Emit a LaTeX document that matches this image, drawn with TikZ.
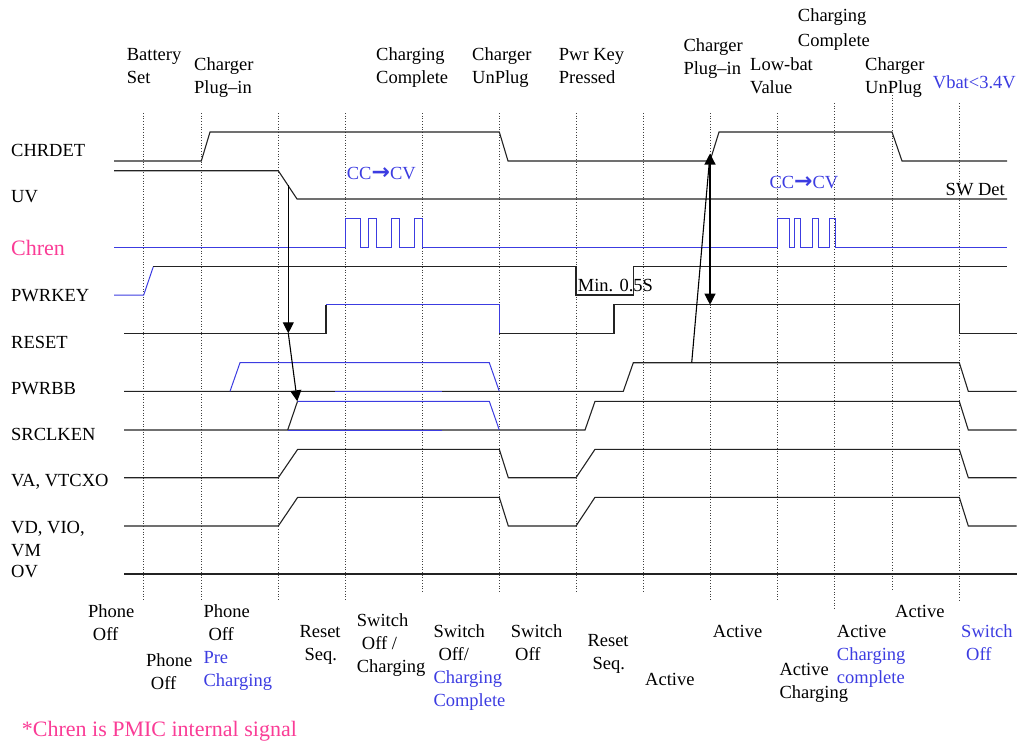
\documentclass[tikz,border=0pt]{standalone}
\usepackage{fontspec}
\setmainfont{Liberation Serif}
\newfontfamily\arrowfont{DejaVu Sans}
\usetikzlibrary{arrows.meta}
\definecolor{sigblue}{RGB}{60,60,225}
\definecolor{pinktxt}{RGB}{250,60,150}
\definecolor{sigline}{RGB}{35,35,35}
\newcommand{\ccarrow}{{\arrowfont\bfseries\fontsize{22}{23}\selectfont →}}
\begin{document}
\begin{tikzpicture}[x=1pt,y=-1pt,
  sig/.style={draw=sigline,line width=1.1pt,line join=miter},
  bsig/.style={draw=sigblue,line width=1.0pt,line join=miter},
  vgrid/.style={draw=black!75,line width=0.7pt,dotted},
  lbl/.style={font=\fontsize{18.5}{23}\selectfont,inner sep=0pt,anchor=base west},
  mlbl/.style={font=\fontsize{18.5}{23}\selectfont,inner sep=0pt,anchor=north west,align=left},
  blu/.style={text=sigblue},
  tipa/.style={draw=black,line width=1.1pt,-{Triangle[length=11pt,width=11pt]}},
  tipb/.style={draw=black,line width=1.1pt,{Triangle[length=11pt,width=11pt]}-{Triangle[length=11pt,width=11pt]}},
  plainl/.style={draw=black,line width=1.1pt},
]
\useasboundingbox (0,0) rectangle (1024,745);

% vertical dotted guides
\foreach \x/\a/\b in {143.7/113/600,201.3/113/600,278.3/113/600,345.3/113/600,422.7/113/591,499.3/113/591,576/113/591,643.3/113/591,710/113/600,777/113/600,834.3/103/610,892/95/591,959.3/103/600}
  \draw[vgrid] (\x,\a) -- (\x,\b);

% CHRDET
\draw[sig] (114,161) -- (201.3,161) -- (210,132) -- (499.3,132) -- (508,161) -- (710,161) -- (719,132) -- (892,132) -- (902,161) -- (1007,161);
% UV
\draw[sig] (114,170.7) -- (278.3,170.7) -- (297,199) -- (1007,199);
% Chren
\draw[bsig] (114,247) -- (345.3,247) -- (345.3,218.5) -- (360.3,218.5) -- (360.3,247) -- (368,247) -- (368,218.5) -- (376,218.5) -- (376,247) -- (391.3,247) -- (391.3,218.5) -- (399.3,218.5) -- (399.3,247) -- (414.7,247) -- (414.7,218.5) -- (422.7,218.5) -- (422.7,247) -- (777.3,247) -- (777.3,218.5) -- (789,218.5) -- (789,247) -- (794,247) -- (794,218.5) -- (800.7,218.5) -- (800.7,247) -- (812.3,247) -- (812.3,218.5) -- (818.3,218.5) -- (818.3,247) -- (829.3,247) -- (829.3,218.5) -- (835.3,218.5) -- (835.3,247) -- (1007,247);
% PWRKEY
\draw[bsig] (114,295) -- (143.7,295) -- (153.3,266.7);
\draw[sig] (153.3,266.7) -- (576,266.7) -- (576,295) -- (633.3,295) -- (633.3,266.7) -- (1007,266.7);
% RESET
\draw[sig] (124,333.3) -- (326,333.3) -- (326,304.7);
\draw[bsig] (326,304.7) -- (499.3,304.7) -- (499.3,333.3);
\draw[sig] (499.3,333.3) -- (614,333.3) -- (614,304.7) -- (959.3,304.7) -- (959.3,333.3) -- (1016.7,333.3);
% PWRBB
\draw[sig] (124,391.3) -- (623.3,391.3) -- (633.3,362.7) -- (959.3,362.7) -- (968.3,391.3) -- (1016.7,391.3);
\draw[bsig] (230,391.3) -- (240,362.7) -- (489.3,362.7) -- (499.3,391.3);
\draw[bsig] (335,391.3) -- (441.7,391.3);
% SRCLKEN
\draw[sig] (124,430) -- (585,430) -- (595,401.3) -- (959.3,401.3) -- (968.3,430) -- (1016.7,430);
\draw[sig] (287.7,430) -- (297.5,401.3);
\draw[bsig] (297.5,401.3) -- (489.3,401.3) -- (499.3,430);
\draw[bsig] (287.7,430) -- (441.7,430);
% VA, VTCXO
\draw[sig] (124,477.7) -- (278.3,477.7) -- (297.7,449.3) -- (499.3,449.3) -- (508.3,477.7) -- (576,477.7) -- (595,449.3) -- (959.3,449.3) -- (968.3,477.7) -- (1016.7,477.7);
% VD, VIO, VM
\draw[sig] (124,526) -- (278.3,526) -- (297.7,497.3) -- (499.3,497.3) -- (508.3,526) -- (576,526) -- (595,497.3) -- (959.3,497.3) -- (968.3,526) -- (1016.7,526);
% OV
\draw[sig] (124,574) -- (1016.7,574);

% arrows
\coordinate (uvfall) at (288.3,185);
\coordinate (rstlow) at (288.3,333.3);
\coordinate (srchi) at (297.3,401.3);
\coordinate (pwrbbhi) at (691.7,362.7);
\coordinate (chrbase) at (709.3,162);
\coordinate (chrrise) at (710,153.5);
\coordinate (rsthi) at (710,304.7);
\draw[tipa] (uvfall) -- (rstlow);
\draw[tipa] (rstlow) -- (srchi);
\draw[plainl] (pwrbbhi) -- (chrbase);
\draw[tipb] (chrrise) -- (rsthi);

% left signal names
\node[lbl] (lchr) at (11,156) {CHRDET};
\node[lbl] (luv) at (11,202) {UV};
\node[lbl,font=\fontsize{22}{26}\selectfont,text=pinktxt] (lchren) at (11,255) {Chren};
\node[lbl] (lpk) at (11,301.7) {PWRKEY};
\node[lbl] (lrst) at (11,348.3) {RESET};
\node[lbl] (lpbb) at (11,394.3) {PWRBB};
\node[lbl] (lsrc) at (11,440.7) {SRCLKEN};
\node[lbl] (lva) at (11,486) {VA, VTCXO};
\node[mlbl] (lvd) at (11,517.2) {\strut VD, VIO,\\\strut VM};
\node[lbl] (lov) at (11,577.7) {OV};

% top event labels
\node[mlbl] (t1) at (126.7,43.9) {\strut Battery\\\strut Set};
\node[mlbl] (t2) at (194,54.2) {\strut Charger\\\strut Plug–in};
\node[mlbl] (t3) at (376,43.9) {\strut Charging\\\strut Complete};
\node[mlbl] (t4) at (472,43.9) {\strut Charger\\\strut UnPlug};
\node[mlbl] (t5) at (558.7,43.9) {\strut Pwr Key\\\strut Pressed};
\node[mlbl] (t6) at (683.3,34.9) {\strut Charger\\\strut Plug–in};
\node[mlbl] (t7) at (750,53.9) {\strut Low-bat\\\strut Value};
\node[mlbl] (t8) at (797.7,4.9) {\strut Charging\\[2.7pt]\strut Complete};
\node[mlbl] (t9) at (865,53.9) {\strut Charger\\\strut UnPlug};
\node[lbl,blu] (t10) at (932.7,88.3) {Vbat<3.4V};

% in-plot labels
\node[lbl,blu] (cc1) at (346.7,179.3) {CC\ccarrow CV};
\node[lbl,blu] (cc2) at (769.3,188.3) {CC\ccarrow CV};
\node[lbl,anchor=base east] (swdet) at (1005,195) {SW Det};
\node[lbl] (minp) at (577.7,291.7) {Min. 0.5S};

% bottom state labels
\node[mlbl] (b1) at (88,601.6) {\strut Phone\\\kern4.7pt\strut Off};
\node[mlbl] (b2) at (146,649.9) {\strut Phone\\\kern4.7pt\strut Off};
\node[mlbl] (b3) at (203.3,601.6) {\strut Phone\\\kern5pt\strut Off\\\strut\textcolor{sigblue}{Pre}\\\strut\textcolor{sigblue}{Charging}};
\node[mlbl] (b4) at (299.3,621.6) {\strut Reset\\\kern5pt\strut Seq.};
\node[mlbl] (b5) at (356.7,610.6) {\strut Switch\\\kern5pt\strut Off /\\\strut Charging};
\node[mlbl] (b6) at (433.3,620.9) {\strut Switch\\\kern5pt\strut Off/\\\strut\textcolor{sigblue}{Charging}\\\strut\textcolor{sigblue}{Complete}};
\node[mlbl] (b7) at (510.7,620.9) {\strut Switch\\\kern4.3pt\strut Off};
\node[mlbl] (b8) at (587.3,629.9) {\strut Reset\\\kern5pt\strut Seq.};
\node[lbl] (b9) at (645,685) {Active};
\node[lbl] (b10) at (712.7,637) {Active};
\node[mlbl] (b11) at (779.3,659.2) {\strut Active\\\strut Charging};
\node[mlbl] (b12) at (836.7,620.9) {\strut Active\\\strut\textcolor{sigblue}{Charging}\\\strut\textcolor{sigblue}{complete}};
\node[lbl] (b13) at (895,617) {Active};
\node[mlbl,blu] (b14) at (961,620.9) {\strut Switch\\\kern5pt\strut Off};

% footnote
\node[lbl,font=\fontsize{22}{26}\selectfont,text=pinktxt] (foot) at (21.7,736.7) {*Chren is PMIC internal signal};
\end{tikzpicture}
\end{document}
